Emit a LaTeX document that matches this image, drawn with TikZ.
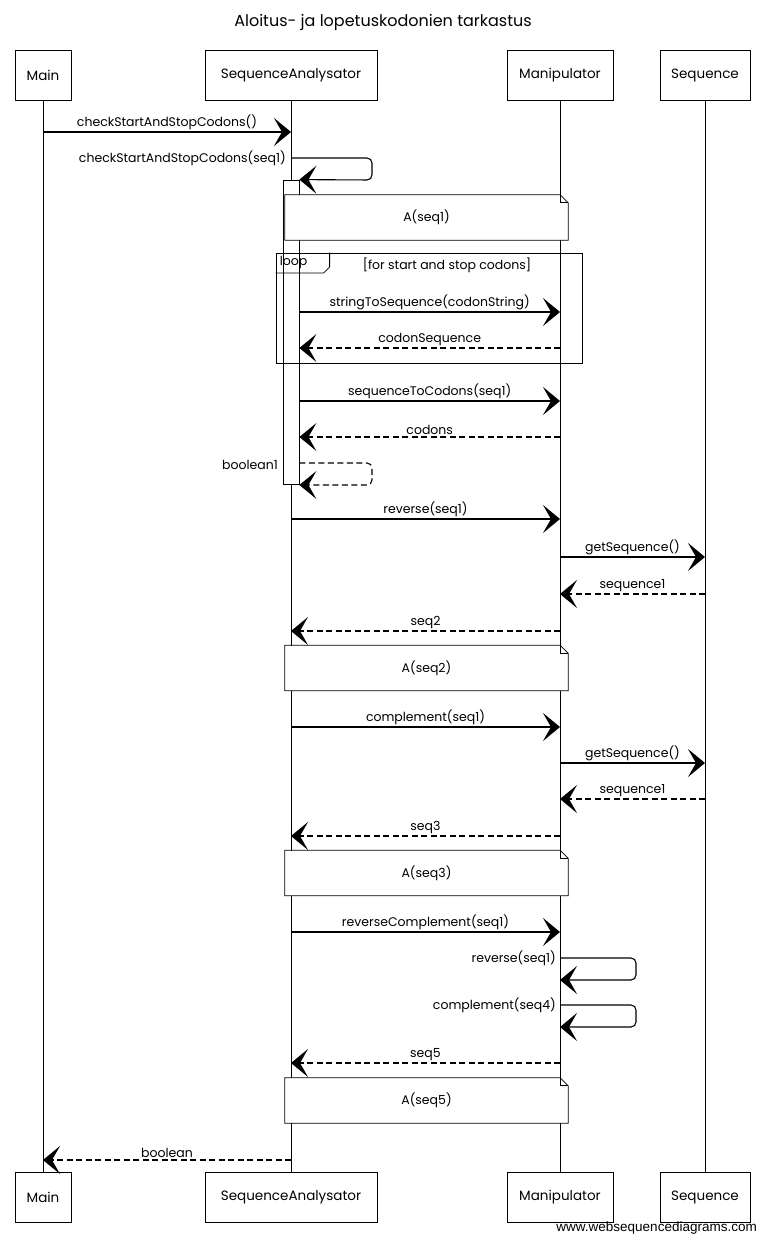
\documentclass[tikz,border=0pt]{standalone}
\usepackage{fontspec}
\setmainfont{Poppins}
\newfontfamily\wsdfont{Liberation Sans}
\usetikzlibrary{arrows.meta,calc}

% note box outline with a folded top-right corner
\newcommand\wsdnote[1]{%
  \draw[notepen] (#1.north west) -- ($(#1.north east)+(-8,0)$) -- ($(#1.north east)+(0,8)$)
    -- (#1.south east) -- (#1.south west) -- cycle;
  \draw[notepen] ($(#1.north east)+(-8,0)$) -- ($(#1.north east)+(-8,8)$) -- ($(#1.north east)+(0,8)$);}

\begin{document}
\begin{tikzpicture}[x=1pt,y=-1pt,
  every node/.style={font=\fontsize{12.5}{14}\selectfont},
  actor/.style={draw, line width=0.8pt, fill=white, minimum height=50pt, inner sep=0pt,
                font=\fontsize{13.5}{15}\selectfont},
  life/.style={line width=0.7pt},
  actbar/.style={draw, line width=0.8pt, fill=white, minimum width=16pt, inner sep=0pt},
  notebox/.style={fill=white, inner sep=0pt, minimum width=283pt, minimum height=45pt},
  notepen/.style={line width=0.8pt},
  frame/.style={draw, line width=0.8pt, inner sep=0pt},
  call/.style={line width=1.1pt, -{Stealth[length=17pt,width=28pt,inset=8pt]}},
  reply/.style={call, dash pattern=on 6pt off 3.5pt},
  lbl/.style={inner sep=1.5pt},
  selflbl/.style={anchor=east, inner sep=0pt},
]
\useasboundingbox (0,0) rectangle (766,1242);

% title
\node[font=\fontsize{16}{18}\selectfont] (title) at (383,22) {Aloitus- ja lopetuskodonien tarkastus};

% participants, top and bottom
\node[actor, minimum width=56pt]  (main) at (43,75)  {Main};
\node[actor, minimum width=172pt] (sa)   at (291,75) {SequenceAnalysator};
\node[actor, minimum width=106pt] (man)  at (560,75) {Manipulator};
\node[actor, minimum width=90pt]  (seq)  at (705,75) {Sequence};

\node[actor, minimum width=56pt]  (mainB) at (43,1197)  {Main};
\node[actor, minimum width=172pt] (saB)   at (291,1197) {SequenceAnalysator};
\node[actor, minimum width=106pt] (manB)  at (560,1197) {Manipulator};
\node[actor, minimum width=90pt]  (seqB)  at (705,1197) {Sequence};

% lifelines
\draw[life] (main.south) -- (mainB.north);
\draw[life] (sa.south)   -- (saB.north);
\draw[life] (man.south)  -- (manB.north);
\draw[life] (seq.south)  -- (seqB.north);

% activation of SequenceAnalysator
\node[actbar, minimum height=304pt] (act) at (291,332) {};

% notes
\node[notebox] (n1) at (426.5,217.5) {};
\wsdnote{n1}
\node at (n1.center) {A(seq1)};
\node[notebox] (n2) at (426.5,668) {};
\wsdnote{n2}
\node at (n2.center) {A(seq2)};
\node[notebox] (n3) at (426.5,873) {};
\wsdnote{n3}
\node at (n3.center) {A(seq3)};
\node[notebox] (n4) at (426.5,1100.5) {};
\wsdnote{n4}
\node at (n4.center) {A(seq5)};

% loop frame
\node[frame, minimum width=306pt, minimum height=110pt] (loop) at (429,308) {};
\node[anchor=north west, inner xsep=4pt, inner ysep=0pt, minimum height=20pt] (looptab) at (loop.north west) {loop};
\draw[line width=0.8pt] ($(looptab.north west)+(54,0)$) -- ($(looptab.south west)+(54,-6)$)
  -- ($(looptab.south west)+(48,0)$) -- (looptab.south west);
\node (loopcond) at (447,265) {[for start and stop codons]};

% messages
\draw[call] (main |- 0,132) -- node[lbl, above] {checkStartAndStopCodons()} (sa |- 0,132);

\draw[call, rounded corners=5pt] (sa |- 0,158) -- (372,158) -- (372,180) -- (act.north east);
\node[selflbl] (l2) at (286,158) {checkStartAndStopCodons(seq1)};

\draw[call] (act.east |- 0,312) -- node[lbl, above] {stringToSequence(codonString)} (man |- 0,312);
\draw[reply] (man |- 0,348) -- node[lbl, above] {codonSequence} (act.east |- 0,348);

\draw[call] (act.east |- 0,401) -- node[lbl, above] {sequenceToCodons(seq1)} (man |- 0,401);
\draw[reply] (man |- 0,437) -- node[lbl, above] {codons} (act.east |- 0,437);

\draw[reply, rounded corners=5pt] (act.east |- 0,463) -- (372,463) -- (372,485) -- (act.east |- 0,485);
\node[selflbl] (l10) at (278,465) {boolean1};

\draw[call] (sa |- 0,519) -- node[lbl, above] {reverse(seq1)} (man |- 0,519);
\draw[call] (man |- 0,557) -- node[lbl, above] {getSequence()} (seq |- 0,557);
\draw[reply] (seq |- 0,594) -- node[lbl, above] {sequence1} (man |- 0,594);
\draw[reply] (man |- 0,631) -- node[lbl, above] {seq2} (sa |- 0,631);

\draw[call] (sa |- 0,727) -- node[lbl, above] {complement(seq1)} (man |- 0,727);
\draw[call] (man |- 0,763) -- node[lbl, above] {getSequence()} (seq |- 0,763);
\draw[reply] (seq |- 0,799) -- node[lbl, above] {sequence1} (man |- 0,799);
\draw[reply] (man |- 0,836) -- node[lbl, above] {seq3} (sa |- 0,836);

\draw[call] (sa |- 0,932) -- node[lbl, above] {reverseComplement(seq1)} (man |- 0,932);
\draw[call, rounded corners=5pt] (man |- 0,958) -- (636,958) -- (636,980) -- (man |- 0,980);
\node[selflbl] (l22) at (556,958) {reverse(seq1)};
\draw[call, rounded corners=5pt] (man |- 0,1005) -- (636,1005) -- (636,1027) -- (man |- 0,1027);
\node[selflbl] (l23) at (556,1005) {complement(seq4)};
\draw[reply] (man |- 0,1063) -- node[lbl, above] {seq5} (sa |- 0,1063);

\draw[reply] (sa |- 0,1160) -- node[lbl, above] {boolean} (main |- 0,1160);

% footer
\node[anchor=south east, inner sep=0pt, font=\wsdfont\fontsize{13.5}{14}\selectfont] (wsd) at (757,1234)
  {www.websequencediagrams.com};
\end{tikzpicture}
\end{document}
